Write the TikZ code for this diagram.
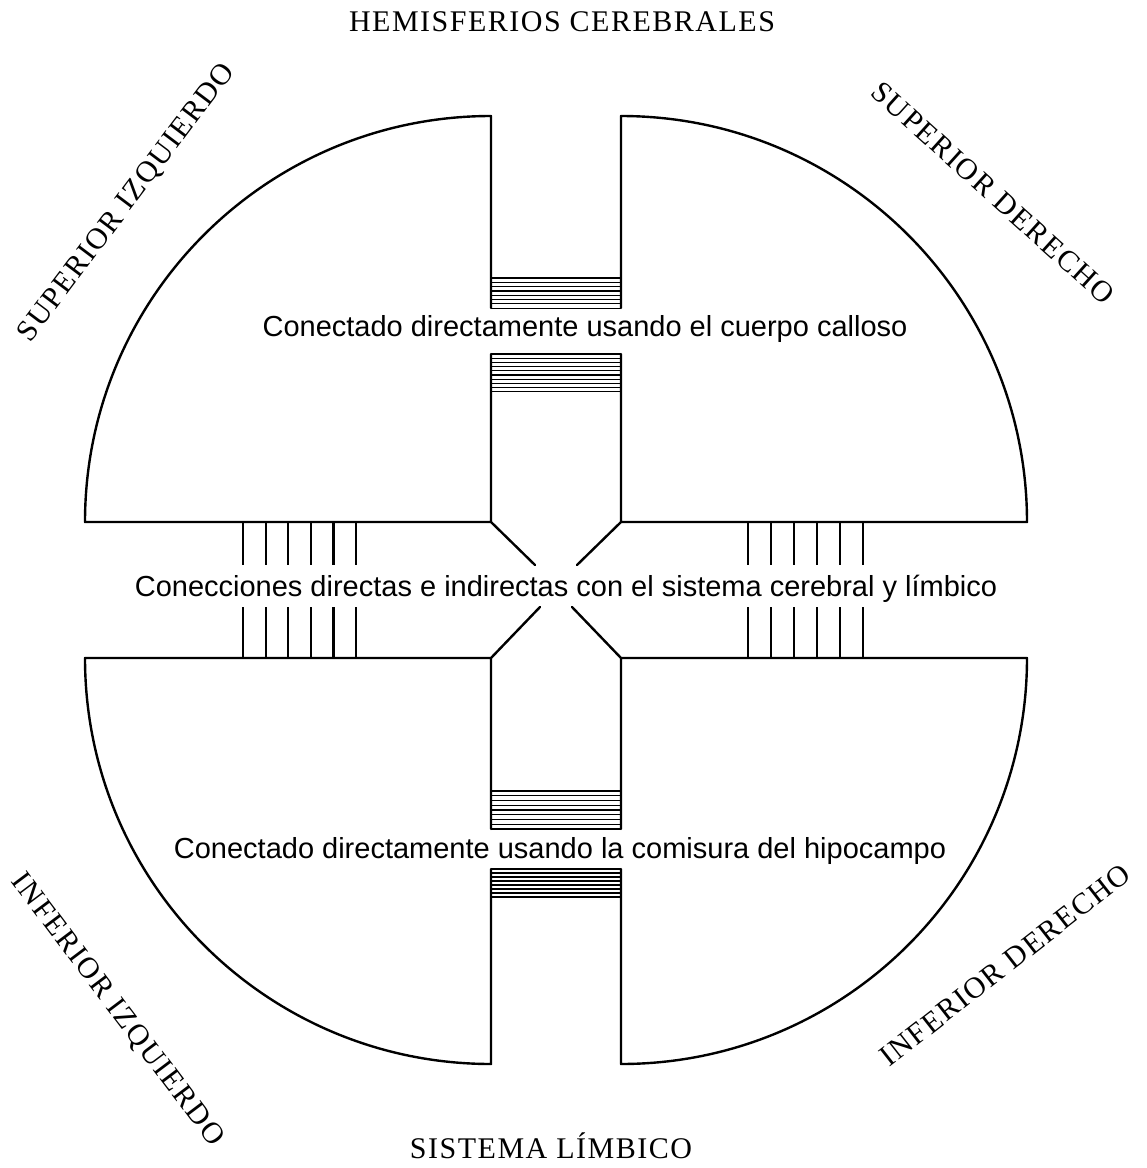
\documentclass[tikz,border=0pt]{standalone}
\usepackage{fontspec}
\setmainfont{Liberation Serif}
\setsansfont{Liberation Sans}
\newfontfamily\spacedserif[LetterSpace=5]{Liberation Serif}

\begin{document}
\begin{tikzpicture}[x=1pt,y=1pt,yscale=-1,
    wall/.style={line width=2.4pt,line cap=round,line join=round},
    fibre/.style={line width=1.2pt},
    tick/.style={line width=2.2pt},
    caption/.style={font=\sffamily\fontsize{29}{34}\selectfont,inner sep=0pt,anchor=base},
    region/.style={font=\spacedserif\fontsize{30}{35}\selectfont,inner sep=0pt}]
    \useasboundingbox (0,0) rectangle (1147,1168);

    % inner corners of the four quadrants
    \coordinate (ul) at (491,522);
    \coordinate (ur) at (621,522);
    \coordinate (ll) at (491,658);
    \coordinate (lr) at (621,658);

    % quadrants
    \draw[wall] (491,354) -- (ul) -- ++(-406,0) arc[start angle=180,end angle=270,radius=406] -- (491,308);
    \draw[wall] (621,354) -- (ur) -- ++(406,0) arc[start angle=0,end angle=-90,radius=406] -- (621,308);
    \draw[wall] (491,829) -- (ll) -- ++(-406,0) arc[start angle=180,end angle=90,radius=406] -- (491,869);
    \draw[wall] (621,829) -- (lr) -- ++(406,0) arc[start angle=0,end angle=90,radius=406] -- (621,869);

    % the cross in the middle
    \draw[wall] (ul) -- (535,565);
    \draw[wall] (ur) -- (577,565);
    \draw[wall] (ll) -- (540,607);
    \draw[wall] (lr) -- (572,607);

    % corpus callosum and hippocampal commissure
    \foreach \i in {0,...,7}
        \draw[fibre] (491,{278+4.3*\i}) -- (621,{278+4.3*\i});
    \foreach \i in {0,...,9}
        \draw[fibre] (491,{354+4.2*\i}) -- (621,{354+4.2*\i});
    \foreach \i in {0,...,8}
        \draw[fibre] (491,{791+4.75*\i}) -- (621,{791+4.75*\i});
    \foreach \i in {0,...,7}
        \draw[fibre] (491,{869+4*\i}) -- (621,{869+4*\i});

    % links to brain stem and limbic system
    \foreach \i in {0,...,5} {
        \draw[tick] ({243+22.6*\i},522) -- ({243+22.6*\i},565);
        \draw[tick] ({243+22.6*\i},607) -- ({243+22.6*\i},658);
        \draw[tick] ({748+23*\i},522) -- ({748+23*\i},565);
        \draw[tick] ({748+23*\i},607) -- ({748+23*\i},658);
    }

    \node[caption] (calloso) at (585,336) {Conectado directamente usando el cuerpo calloso};
    \node[caption] (enlaces) at (566,596) {Conecciones directas e indirectas con el sistema cerebral y límbico};
    \node[caption] (comisura) at (560,858) {Conectado directamente usando la comisura del hipocampo};

    \node[region] (hemisferios) at (562,22) {HEMISFERIOS CEREBRALES};
    \node[region] (limbico) at (551,1146) {SISTEMA LÍMBICO};
    \node[region,rotate=53] (supizq) at (127,203) {SUPERIOR IZQUIERDO};
    \node[region,rotate=-42] (supder) at (993,193) {SUPERIOR DERECHO};
    \node[region,rotate=-53] (infizq) at (117,1010) {INFERIOR IZQUIERDO};
    \node[region,rotate=38] (infder) at (1005,965) {INFERIOR DERECHO};
\end{tikzpicture}
\end{document}
